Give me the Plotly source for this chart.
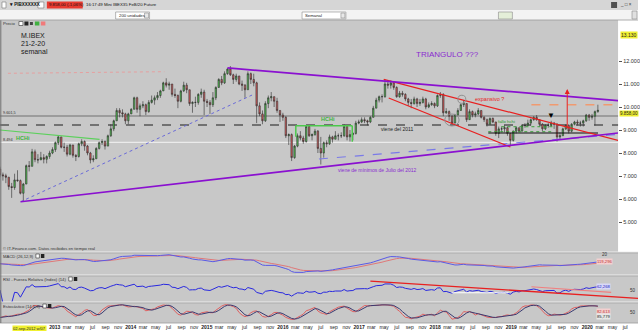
import pandas as pd
import numpy as np
import plotly.graph_objects as go

# ---------------- data (bi-weekly candles) ----------------
first_period_end = "2012-04-13"
n_periods = 206
first_open = 7300
closes = [7050, 7010, 6950, 6540, 6500, 6830, 6800, 6250, 6650, 7450, 7420, 8050, 7710, 7700, 7800, 7730, 7850, 8000, 8150,
          8450, 8700, 8250, 8250, 7950, 8350, 7900, 7850, 8400, 8500, 8300, 8000, 7700, 7750, 8200, 8450, 8500, 8300, 8750, 9050, 9400, 9850, 9750, 9700, 9400, 9700,
          9900, 10400, 9900, 10050, 10100, 9800, 10200, 10300, 10400, 10500, 10700, 11050, 10950, 11000, 10550, 10500, 10250, 10700, 10950, 10750, 10150, 10200, 10200, 10550, 10650, 10250,
          10200, 10100, 10400, 10850, 11200, 11050, 11450, 11650, 11400, 11200, 11350, 11000, 10950, 10750, 11450, 11200, 11050, 10050, 9700, 9400, 10150, 10400, 10450, 10250, 9850, 9650,
          9550, 8750, 8800, 7800, 8300, 8750, 8650, 8500, 9150, 8750, 8800, 8950, 8200, 8000, 8450, 8400, 8700, 8600, 8750, 8750, 8750, 9150, 8700, 8800, 8850, 9300, 9350,
          9450, 9400, 9350, 9550, 9950, 10300, 10450, 10450, 11000, 10950, 11050, 10850, 10450, 10600, 10550, 10350, 10200, 10150, 10350, 10150, 10200, 10350, 10000, 10100, 10150, 10050,
          10500, 10550, 9750, 9800, 9600, 9300, 9650, 9850, 10100, 10150, 9450, 9800, 9650, 9700, 9850, 9550, 9450, 9250, 9500, 9350, 8850, 9050, 9050, 9100, 8850, 8550,
          8950, 9100, 8950, 9200, 9200, 9300, 9450, 9550, 9450, 9250, 9050, 9200, 9200, 9300, 9250, 8700, 8750, 9050, 9200, 8950, 9250, 9350, 9300, 9300, 9400, 9650,
          9550, 9600, 9800, 9858]
highs = [7400, 7150, 7100, 6900, 6700, 7100, 7250, 6850, 6700, 7500, 7650, 8180, 8150, 7950, 8050, 7950, 7900, 8100, 8250,
         8500, 8750, 8700, 8450, 8350, 8400, 8350, 7950, 8450, 8600, 8550, 8350, 8050, 7900, 8250, 8500, 8600, 8550, 8800, 9250, 9450, 9950, 9950, 9900, 9750, 9750,
         9950, 10450, 10450, 10150, 10250, 10150, 10300, 10500, 10500, 10650, 10750, 11100, 11250, 11100, 11000, 10800, 10550, 10750, 11100, 11050, 10750, 10250, 10450, 10600, 10800, 10750,
         10350, 10300, 10650, 10900, 11250, 11350, 11550, 11700, 11780, 11450, 11450, 11350, 11150, 11000, 11550, 11500, 11450, 11100, 10200, 9850, 10250, 10500, 10650, 10450, 10400, 9850,
         9750, 9600, 8850, 8850, 8350, 8850, 8950, 8750, 9200, 9200, 8850, 9050, 9000, 8700, 8500, 8550, 8800, 8750, 8950, 8850, 8900, 9250, 9150, 9000, 8900, 9400, 9450,
         9550, 9550, 9450, 9600, 10050, 10400, 10500, 10550, 11200, 11150, 11150, 11100, 10900, 10700, 10700, 10600, 10400, 10350, 10450, 10400, 10350, 10450, 10400, 10200, 10250, 10200,
         10550, 10650, 10600, 9950, 9850, 9650, 9700, 9950, 10150, 10300, 10150, 9900, 9850, 9800, 9950, 9850, 9600, 9500, 9550, 9550, 9350, 9150, 9150, 9200, 9150, 8850,
         8980, 9150, 9100, 9250, 9300, 9450, 9500, 9600, 9650, 9450, 9300, 9250, 9300, 9400, 9350, 9300, 8900, 9100, 9250, 9250, 9300, 9400, 9450, 9400, 9450, 9700,
         9700, 9700, 9850, 10100]
lows = [6950, 6800, 6690, 6400, 6050, 6400, 6750, 6200, 5900, 6650, 7200, 7500, 7600, 7550, 7700, 7550, 7550, 7750, 7950,
        8050, 8350, 8200, 8050, 7850, 7900, 7800, 7650, 7800, 8300, 8100, 7900, 7550, 7600, 7750, 8150, 8350, 8150, 8300, 8700, 8950, 9400, 9550, 9550, 9250, 9250,
        9700, 9900, 9750, 9600, 9950, 9650, 9750, 10150, 10100, 10300, 10400, 10700, 10850, 10750, 10450, 10400, 9950, 10200, 10650, 10600, 10050, 9750, 10000, 10100, 10400, 9650,
        10000, 9700, 10000, 10300, 10850, 10950, 11000, 11400, 11350, 11000, 11100, 10950, 10700, 10400, 10750, 11000, 10900, 9300, 9600, 9250, 9350, 9950, 10250, 10000, 9750, 9350,
        9400, 8650, 8350, 7650, 7750, 8250, 8550, 8400, 8450, 8700, 8550, 8750, 8000, 7500, 7800, 8250, 8350, 8450, 8600, 8550, 8650, 8700, 8550, 8500, 8550, 8800, 9250,
        9300, 9300, 9200, 9300, 9550, 9950, 10200, 10200, 10400, 10800, 10800, 10750, 10400, 10400, 10450, 10250, 10050, 9950, 10100, 10000, 10050, 10150, 9900, 9950, 10050, 9950,
        10000, 10400, 9600, 9700, 9400, 9250, 9300, 9650, 9850, 10000, 9350, 9550, 9550, 9550, 9650, 9500, 9350, 9150, 9250, 9300, 8750, 8650, 8900, 8900, 8750, 8300,
        8500, 8850, 8900, 8950, 9100, 9200, 9200, 9400, 9400, 9150, 8950, 9000, 9100, 9150, 9050, 8500, 8600, 8750, 9000, 8850, 8900, 9200, 9200, 9150, 9150, 9350,
        9400, 9450, 9200, 9750]

price_ticks = [5000, 6000, 7000, 8000, 9000, 10000, 11000, 12000]
price_tick_text = ["5.000", "6.000", "7.000", "8.000", "9.000", "10.000", "11.000", "12.000"]
month_labels = {3: "mar", 5: "may", 7: "jul", 9: "sep", 11: "nov"}
hidden_tick_dates = ["2012-07-01", "2012-09-01", "2012-11-01"]  # covered by the yellow cursor date box

# drawn objects on the price panel: (date0, price0, date1, price1)
purple_lines = [("2012-07-21", 5880, "2020-05-28", 8870), ("2015-04-10", 11700, "2020-05-28", 10274)]
blue_dotted_line = ("2012-07-21", 5880, "2015-08-06", 10520)
blue_dashed_line = ("2016-06-22", 7740, "2020-05-28", 8810)
red_lines = [("2017-04-29", 11200, "2020-05-28", 8550), ("2017-05-23", 10390, "2018-12-28", 8260)]
green_hchi_left = ("2012-04-13", 9000, "2013-08-04", 8596)
green_hchi_box = [("2016-03-03", 8710, "2016-03-03", 9187), ("2016-03-03", 9187, "2016-11-29", 9187),
                  ("2016-11-29", 9187, "2016-11-29", 8491)]
green_dotted = [("2018-11-15", 9143, "2019-07-21", 9143), ("2018-09-13", 8926, "2019-07-12", 8926)]
black_neck = ("2018-09-13", 8870, "2020-02-22", 8870)
orange_dashed = ("2019-04-08", 10100, "2020-05-28", 10100)
pink_dotted = ("2012-05-21", 11465, "2014-06-11", 11535)
level_gray, level_dashed, level_white = 9609, 9217, 8465
circles = [("2018-02-16", 9175, "2018-04-26", 9695), ("2018-04-20", 10160, "2018-05-28", 10510)]
marker_down = ("2019-07-12", 9652)
red_arrow = ("2019-09-27", 9000, 10783)
rsi_red_lines = [("2017-02-24", 84.6, "2020-09-01", 18.0), ("2019-04-08", 62.7, "2020-04-25", 41.2)]
rsi_white_line = ("2018-03-21", 39.6, "2018-12-19", 39.6)

# ---------------- derived ----------------
dates = pd.date_range(first_period_end, periods=n_periods, freq="14D")
c = pd.Series(closes, dtype=float)
opens = [first_open] + closes[:-1]
h = np.maximum(np.array(highs, float), np.maximum(opens, closes))
l = np.minimum(np.array(lows, float), np.minimum(opens, closes))

ema_f = c.ewm(span=12, adjust=False).mean()
ema_s = c.ewm(span=26, adjust=False).mean()
macd = ema_f - ema_s
signal = macd.ewm(span=9, adjust=False).mean()
d = c.diff().fillna(0)
gain = d.clip(lower=0).ewm(alpha=1 / 14, adjust=False).mean()
loss = (-d.clip(upper=0)).ewm(alpha=1 / 14, adjust=False).mean()
rsi = 100 - 100 / (1 + gain / loss.replace(0, np.nan))
rsi = rsi.fillna(50)
hh = pd.Series(h).rolling(7, min_periods=1).max()
ll = pd.Series(l).rolling(7, min_periods=1).min()
k = 100 * (c - ll) / (hh - ll)
k_s = k.rolling(4, min_periods=1).mean()
d_s = k_s.rolling(3, min_periods=1).mean()

# ---------------- layout geometry ----------------
W, H = 640, 331
T, B = 20, 8
PH = H - T - B


def py(p):
    return (H - B - p) / PH


def px(p):
    return p / W


X0 = pd.Timestamp("2012-04-13")
X620 = pd.Timestamp("2020-05-28")
X640 = X0 + (X620 - X0) * (640 / 620)
BG = "#c8c8c8"
FONT = "Liberation Sans"

fig = go.Figure()
fig.add_trace(go.Candlestick(
    x=dates, open=opens, high=h, low=l, close=closes, whiskerwidth=0,
    increasing=dict(line=dict(color="#2b2b2b", width=0.6), fillcolor="#52c052"),
    decreasing=dict(line=dict(color="#2b2b2b", width=0.6), fillcolor="#d65c5c"),
    xaxis="x", yaxis="y", showlegend=False, hoverinfo="skip"))
fig.add_trace(go.Scatter(x=dates, y=signal, mode="lines", line=dict(color="#e07878", width=1), xaxis="x2", yaxis="y2", showlegend=False))
fig.add_trace(go.Scatter(x=dates, y=macd, mode="lines", line=dict(color="#5a5ae6", width=1), xaxis="x2", yaxis="y2", showlegend=False))
fig.add_trace(go.Scatter(x=dates, y=rsi, mode="lines", line=dict(color="#2828e0", width=1), xaxis="x3", yaxis="y3", showlegend=False))
fig.add_trace(go.Scatter(x=dates, y=k_s, mode="lines", line=dict(color="#e06060", width=1), xaxis="x4", yaxis="y4", showlegend=False))
fig.add_trace(go.Scatter(x=dates, y=d_s, mode="lines", line=dict(color="#3a3a70", width=1), xaxis="x4", yaxis="y4", showlegend=False))

shapes = []


def seg(t, xr="x", yr="y", color="#000", width=1, dash="solid", layer="above"):
    shapes.append(dict(type="line", xref=xr, yref=yr, x0=t[0], y0=t[1], x1=t[2], y1=t[3],
                       line=dict(color=color, width=width, dash=dash), layer=layer))


def hline(val, color, width=1, dash="solid"):
    shapes.append(dict(type="line", xref="paper", yref="y", x0=0, x1=620 / 640, y0=val, y1=val,
                       line=dict(color=color, width=width, dash=dash), layer="below"))


def prect(x0, y0, x1, y1, fill, line=None, lw=0.6):
    shapes.append(dict(type="rect", xref="paper", yref="paper", x0=px(x0), x1=px(x1), y0=py(y1), y1=py(y0),
                       fillcolor=fill, line=dict(color=line or fill, width=lw if line else 0), layer="above"))


def pline(x0, y0, x1, y1, color, width=1):
    shapes.append(dict(type="line", xref="paper", yref="paper", x0=px(x0), x1=px(x1), y0=py(y0), y1=py(y1),
                       line=dict(color=color, width=width), layer="above"))


# horizontal levels
hline(level_white, "#f4f4f4", 1)
hline(level_gray, "#707070", 1)
hline(level_dashed, "#555555", 1.4, "dash")
seg(pink_dotted, color="#e6a0a0", width=1, dash="dot")
seg(green_hchi_left, color="#5cd05c", width=1.2)
for s in green_hchi_box:
    seg(s, color="#4cc84c", width=1.5)
for s in green_dotted:
    seg(s, color="#3aa03a", width=1, dash="dot")
seg(blue_dotted_line, color="#6a6ad8", width=1, dash="dot")
seg(blue_dashed_line, color="#7a7ae8", width=1.2, dash="dash")
seg(black_neck, color="#111111", width=1.2)
seg(orange_dashed, color="#f09a70", width=1.5, dash="dash")
for s in red_lines:
    seg(s, color="#e82020", width=1.2)
for s in purple_lines:
    seg(s, color="#8a10d0", width=1.7)
for cx in circles:
    shapes.append(dict(type="circle", xref="x", yref="y", x0=cx[0], y0=cx[1], x1=cx[2], y1=cx[3],
                       line=dict(color="#909090", width=1)))
seg(rsi_red_lines[0], xr="x3", yr="y3", color="#e82020", width=1.4)
seg(rsi_red_lines[1], xr="x3", yr="y3", color="#f08080", width=1.2)
seg(rsi_white_line, xr="x3", yr="y3", color="#ffffff", width=1.2)

# panel separators
for yy in (252, 275, 302):
    pline(0, yy, 640, yy, "#eeeeee", 1)
    pline(0, yy + 1, 640, yy + 1, "#9a9a9a", 0.6)
pline(0, 323, 640, 323, "#9a9a9a", 0.8)
pline(0.8, 20, 0.8, 323, "#707070", 1)

# header
prect(0, 0, 640, 10, "#d6d6d6")
prect(0, 10, 640, 20, "#f3f3f3")
pline(0, 20, 640, 20, "#9a9a9a", 0.8)
prect(2, 2, 6, 8, "#ffffff", "#777777")
prect(38, 2, 44, 8, "#ffffff", "#777777")
prect(47, 1.5, 83, 8.5, "#e83a30")
prect(116, 12, 150, 19, "#ffffff", "#8a8a8a")
prect(145, 13, 149, 18, "#e8e8e8", "#8a8a8a")
prect(303, 12, 347, 19, "#ffffff", "#8a8a8a")
prect(342, 13, 346, 18, "#e8e8e8", "#8a8a8a")
prect(500, 12, 514, 19, "#e4eed8", "#8a8a8a")
prect(613, 2, 619, 8, "#505050")
prect(634, 11, 639, 19, "#e0e0e0", "#8a8a8a")
# price-panel icon row
prect(19, 21.5, 23, 25.5, "#ffffff", "#333333")
prect(24.5, 21.5, 28.5, 25.5, "#222222")
prect(30, 22, 33, 25, "#444444")
prect(35, 21.5, 39.5, 25.5, "#40b040")
prect(41, 21.5, 45.5, 25.5, "#f07a7a")
for yy, w0 in ((256, 33), (279, 66), (306, 40)):
    prect(w0 + 3, yy - 2, w0 + 6.5, yy + 2, "#ffffff", "#333333")
    prect(w0 + 8, yy - 2, w0 + 11.5, yy + 2, "#222222")

ann = []


def ptext(x, y, text, size=5, color="#222222", anchor="left", bold=False, bg=None, fam=FONT):
    ann.append(dict(xref="paper", yref="paper", x=px(x), y=py(y), text=("<b>%s</b>" % text) if bold else text,
                    showarrow=False, xanchor=anchor, yanchor="middle",
                    font=dict(size=size, color=color, family=fam), bgcolor=bg, borderpad=0))


def dtext(x, y, text, size=5, color="#222222", xr="x", yr="y"):
    ann.append(dict(xref=xr, yref=yr, x=x, y=y, text=text, showarrow=False, xanchor="center",
                    yanchor="middle", font=dict(size=size, color=color, family=FONT)))


ptext(8, 5, "▾ PIBXXXXXX", 4.5, "#111111", bold=True)
ptext(48, 5, "9.858,00 (-1,06%)", 4.3, "#111111")
ptext(85, 5, "16:17:49 Mini IBEX35 FeB/20 Future", 4.3, "#111111")
ptext(118, 15.5, "200 unidades", 4.3, "#222222")
ptext(305, 15.5, "Semanal", 4.3, "#222222")
ptext(621, 5, "_ □ ×", 4.5, "#333333")
ptext(2, 23.5, "Precio", 4.2, "#333333")
ptext(20, 35, "M.IBEX", 7, "#1a1a1a")
ptext(20, 43, "21-2-20", 7, "#1a1a1a")
ptext(20, 51, "semanal", 7, "#1a1a1a")
ptext(2, 113, "9.601,5", 3.8, "#333333")
ptext(2, 140, "8.494", 3.8, "#333333")
ptext(2, 249, "© IT-Finance.com. Datos recibidos en tiempo real", 4.2, "#333333")
ptext(2, 256, "MACD (26,12,9)", 4.2, "#333333")
ptext(2, 279, "RSI - Fuerza Relativa (Index) (14)", 4.2, "#333333")
ptext(2, 306, "Estocástico (14,5,3)", 4.2, "#333333")
ptext(622, 35, "13.130", 5, "#222222", bg="#f0f030")
ptext(621, 113.5, "9.858,00", 4.5, "#222222", bg="#f0f030")
ptext(12, 328, "02-sep-2012 w/07", 4.0, "#222222", bg="#f0f030")
ptext(603, 255, "20", 4.5, "#333333")
ptext(598, 261, ("%.3f" % macd.iloc[-1]).replace(".", ","), 4.2, "#c03030", bg="#f4d0d0")
ptext(598, 286, ("%.3f" % rsi.iloc[-1]).replace(".", ","), 4.2, "#2020c0", bg="#d8d8f8")
ptext(598, 311, ("%.3f" % k_s.iloc[-1]).replace(".", ","), 4.2, "#c03030", bg="#f4d0d0")
ptext(598, 316, ("%.3f" % d_s.iloc[-1]).replace(".", ","), 4.2, "#222222", bg="#e8e8e8")

dtext("2018-03-02", 12283, "TRIANGULO ???", 8, "#8a2bd0")
dtext("2017-03-31", 7261, "viene de mínimos de Julio del 2012", 5, "#8a2bd0")
dtext("2017-06-30", 9043, "viene del 2011", 5, "#222222")
dtext("2016-08-04", 9478, "<b>HCHi</b>", 5.5, "#3cb43c")
dtext("2012-07-30", 8665, "<b>HCHi</b>", 5.5, "#3cb43c")
dtext("2018-09-19", 10370, "expansivo ?", 5.5, "#e82020")
dtext("2018-12-08", 9361, "fallo hchi", 4.3, "#2a9a2a")
ann.append(dict(xref="x", yref="y", x=marker_down[0], y=marker_down[1], text="▼", showarrow=False,
                font=dict(size=8, color="#000000"), yanchor="middle"))
ann.append(dict(xref="x", yref="y", x=red_arrow[0], y=red_arrow[2], ax=red_arrow[0], ay=red_arrow[1],
                axref="x", ayref="y", text="", showarrow=True, arrowhead=2, arrowsize=1, arrowwidth=1,
                arrowcolor="#e82020"))

# x tick labels (bi-monthly)
hidden = set(pd.to_datetime(hidden_tick_dates))
tickvals, ticktext = [], []
for yr in range(2012, 2021):
    for m in (1, 3, 5, 7, 9, 11):
        t = pd.Timestamp(yr, m, 1)
        if X0 <= t <= X640 and t not in hidden:
            tickvals.append(t)
            ticktext.append("<b>%d</b>" % yr if m == 1 else month_labels[m])

ax_common = dict(showgrid=False, zeroline=False, showline=False, fixedrange=True)
fig.update_layout(
    width=W, height=H, margin=dict(l=0, r=0, t=T, b=B),
    paper_bgcolor="#ffffff", plot_bgcolor=BG, showlegend=False,
    font=dict(family=FONT),
    xaxis=dict(domain=[0, 620 / 640], range=[X0, X620], anchor="y", showticklabels=False,
               rangeslider=dict(visible=False), **ax_common),
    yaxis=dict(domain=[py(252), 1], range=[3696, 13783], anchor="x", side="right",
               tickvals=price_ticks, ticktext=price_tick_text, ticks="outside", ticklen=3,
               tickcolor="#555555", tickfont=dict(size=5.5, color="#333333"), **ax_common),
    xaxis2=dict(domain=[0, 1], range=[X0, X640], anchor="y2", showticklabels=False, **ax_common),
    yaxis2=dict(domain=[py(275), py(252)],
                range=[float(min(macd.min(), signal.min())) * 1.3, float(max(macd.max(), signal.max())) * 1.3],
                anchor="x2", showticklabels=False, **ax_common),
    xaxis3=dict(domain=[0, 1], range=[X0, X640], anchor="y3", showticklabels=False, **ax_common),
    yaxis3=dict(domain=[py(302), py(275)], range=[4, 108], anchor="x3", side="right",
                tickvals=[50, 100], ticklabelposition="inside", tickfont=dict(size=4.5, color="#333333"),
                **ax_common),
    xaxis4=dict(domain=[0, 1], range=[X0, X640], anchor="y4", tickvals=tickvals, ticktext=ticktext,
                tickangle=0, tickfont=dict(size=5, color="#222222"), ticks="", **ax_common),
    yaxis4=dict(domain=[0, py(302)], range=[-8, 108], anchor="x4", side="right", tickvals=[50],
                ticklabelposition="inside", tickfont=dict(size=4.5, color="#333333"), **ax_common),
    shapes=shapes, annotations=ann,
)
fig.write_html("out.html")
